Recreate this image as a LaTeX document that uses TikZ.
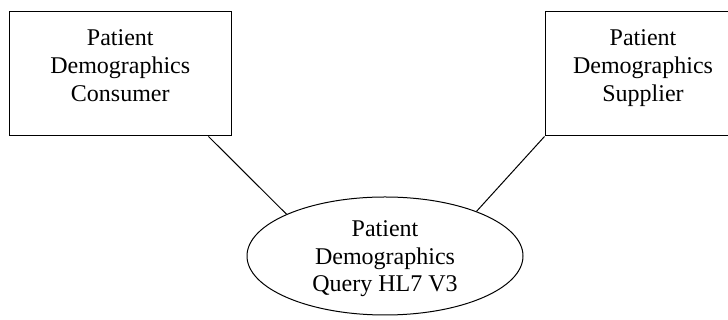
\documentclass[tikz,border=0pt]{standalone}
\usepackage{fontspec}
\setmainfont{Liberation Serif}
\usetikzlibrary{shapes.geometric}
\tikzset{
  shape line/.style={draw=black, line width=1pt},
  boxnode/.style={shape line, rectangle, inner sep=0pt},
  ellnode/.style={shape line, ellipse, inner sep=0pt, minimum width=276pt, minimum height=118pt},
  label text/.style={align=center, inner sep=0pt, anchor=north, font=\fontsize{24}{27.8}\selectfont},
  link/.style={draw=black, line width=1pt}
}
\begin{document}
\begin{tikzpicture}[x=1pt,y=1pt]
\clip (0,0) rectangle (728,320);
\useasboundingbox (0,0) rectangle (728,320);
\node[boxnode, minimum width=221.5pt, minimum height=124.5pt] (lbox) at (120.25,246.25) {};
\node[boxnode, minimum width=196pt, minimum height=124.5pt] (rbox) at (643,246.25) {};
\node[ellnode] (ell) at (385,64) {};
\node[label text] (ltext) at (120.25,290.6) {Patient\\Demographics\\Consumer};
\node[label text] (rtext) at (643,290.6) {Patient\\Demographics\\Supplier};
\node[label text] (etext) at (385,99.7) {Patient\\Demographics\\Query HL7 V3};
\coordinate (lfoot) at ([xshift=-23pt]lbox.south east);
\draw[link] (lfoot) -- (ell.157);
\draw[link] (rbox.south west) -- (ell.26);
\end{tikzpicture}
\end{document}
